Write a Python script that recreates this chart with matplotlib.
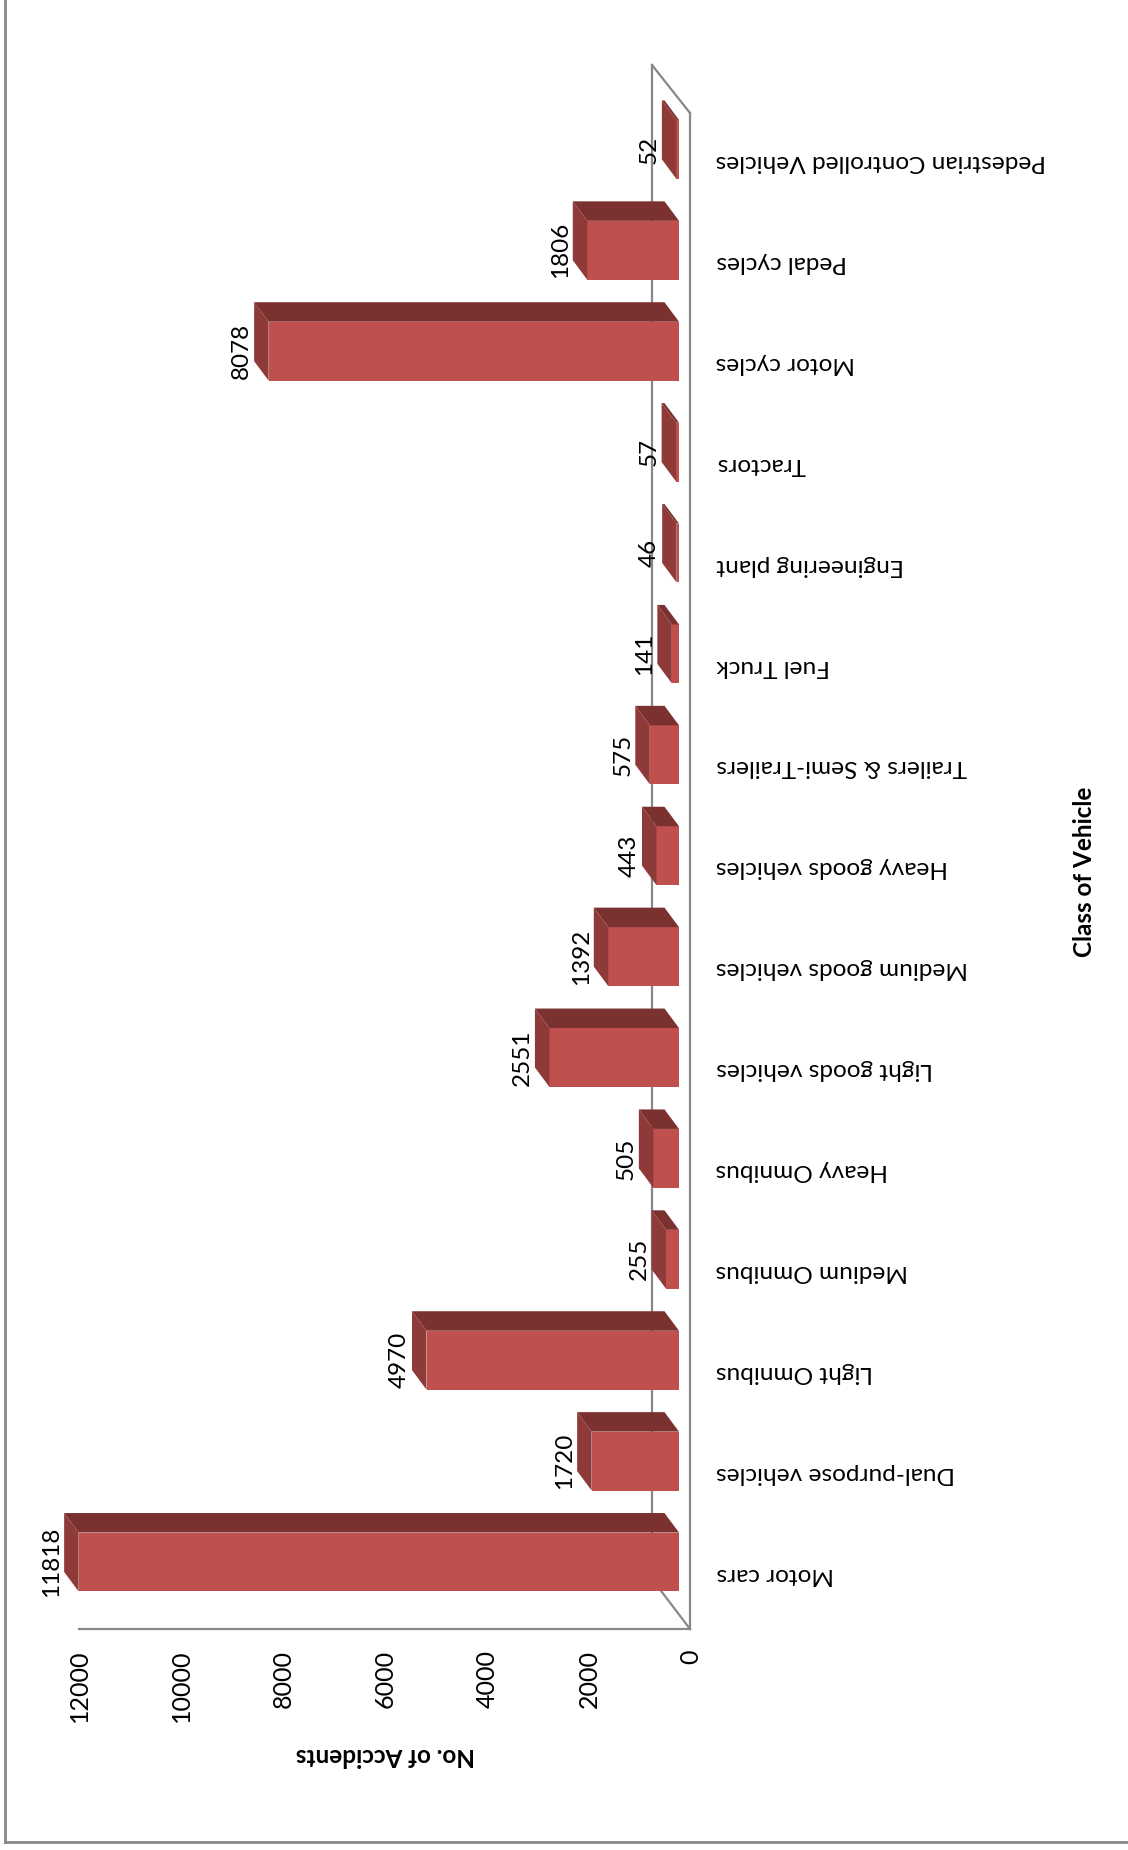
import matplotlib
matplotlib.use("Agg")
import matplotlib.pyplot as plt
from matplotlib.lines import Line2D
import numpy as np

plt.rcParams['font.family'] = ['Lato', 'DejaVu Sans']

# Data (chart is an Excel 3D column chart shown turned on its side)
vehicle_classes = ['Motor cars', 'Dual-purpose vehicles', 'Light Omnibus',
                   'Medium Omnibus', 'Heavy Omnibus', 'Light goods vehicles',
                   'Medium goods vehicles', 'Heavy goods vehicles',
                   'Trailers & Semi-Trailers', 'Fuel Truck', 'Engineering plant',
                   'Tractors', 'Motor cycles', 'Pedal cycles',
                   'Pedestrian Controlled Vehicles']
accidents = [11818, 1720, 4970, 255, 505, 2551, 1392, 443, 575, 141, 46, 57,
             8078, 1806, 52]
value_ticks = [0, 2000, 4000, 6000, 8000, 10000, 12000]

# Colours
front_col = '#C0504D'
top_col = '#7B3130'
end_col = '#8E3A38'
line_col = '#888888'

W, H = 1128, 1850
fig = plt.figure(figsize=(W / 100, H / 100), dpi=100)
ax = fig.add_axes([0, 0, 1, 1])
ax.set_facecolor('none')

# pixel layout of the rotated plot area
px_per_val = 0.0508      # px per accident along the value direction
base_px = 679            # x pixel of the bars' base
cat_px = 100.9           # px between categories
first_px = 1562          # y pixel (from top) of first bar centre

ax.set_xlim(base_px / px_per_val, (base_px - W) / px_per_val)
ax.set_ylim((first_px - H) / cat_px, first_px / cat_px)

def vx(px):
    return (base_px - px) / px_per_val

def cy(py):
    return (first_px - py) / cat_px

half_h = 0.292
ddx = 14.5 / px_per_val
ddy = 19.5 / cat_px

pos = np.arange(len(accidents))

# floor / back wall outline
floor_front = vx(690)
back_wall = vx(652)
ax.plot([back_wall, back_wall], [cy(65), cy(1579)], color=line_col, lw=1.6, zorder=1)
ax.plot([back_wall, floor_front], [cy(65), cy(113)], color=line_col, lw=1.6, zorder=1)
ax.plot([floor_front, floor_front], [cy(113), cy(1629)], color=line_col, lw=1.6, zorder=1)
ax.plot([back_wall, floor_front], [cy(1579), cy(1629)], color=line_col, lw=1.6, zorder=1)

# bars: front face + top face + end face
ax.barh(pos, accidents, height=2 * half_h, left=0, color=front_col, zorder=3)
for i, v in zip(pos, accidents):
    top = i + half_h
    bot = i - half_h
    ax.fill([0, v, v + ddx, ddx], [top, top, top + ddy, top + ddy],
            color=top_col, lw=0, zorder=3)
    ax.fill([v, v + ddx, v + ddx, v], [bot, bot + ddy, top + ddy, top],
            color=end_col, lw=0, zorder=3)
    ax.text(v + ddx + 40, i, str(v), rotation=90, ha='right', va='center',
            fontsize=17.5, color='black', zorder=4)

# category labels (upside down)
for i, name in zip(pos, vehicle_classes):
    ax.text(vx(716), i - 0.12, name, rotation=180, ha='left', va='center',
            fontsize=17.6, color='black')

# value axis along the bottom
for s in ['left', 'top', 'right']:
    ax.spines[s].set_visible(False)
ax.spines['bottom'].set_position(('data', cy(1629)))
ax.spines['bottom'].set_bounds(vx(79), floor_front)
ax.spines['bottom'].set_color(line_col)
ax.spines['bottom'].set_linewidth(1.6)
tick_pos = [t * 1.004 + vx(691) for t in value_ticks]
ax.set_xticks(tick_pos, labels=[str(t) for t in value_ticks], rotation=90,
              fontsize=18)
ax.tick_params(axis='x', length=0, pad=15)
ax.set_yticks([])

# axis titles
fig.text(1085 / W, 1 - 872 / H, 'Class of Vehicle', rotation=90, ha='center',
         va='center', fontsize=17.5, fontweight='bold')
fig.text(385 / W, 1 - 1756 / H, 'No. of Accidents', rotation=180, ha='center',
         va='center', fontsize=17.5, fontweight='bold')

# chart border (only left and bottom edges are in view)
fig.add_artist(Line2D([5 / W, 5 / W], [1, 1 - 1842 / H], color=line_col,
                      lw=2, transform=fig.transFigure))
fig.add_artist(Line2D([5 / W, 1], [1 - 1842 / H, 1 - 1842 / H], color=line_col,
                      lw=2, transform=fig.transFigure))

fig.savefig('out.png', dpi=100, facecolor='white')
